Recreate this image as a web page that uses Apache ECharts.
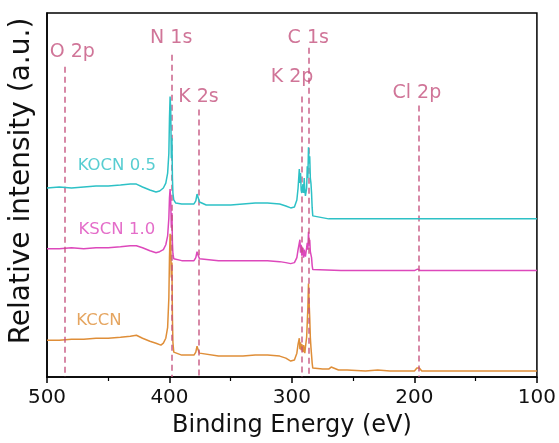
<!DOCTYPE html>
<html style="height: 100%">
<head>
  <meta charset="utf-8">
  <title>XPS survey</title>
</head>
<body style="height: 100%; margin: 0; background: #fff">
  <div id="container" style="width: 559px; height: 443px"></div>
  <script src="https://cdn.jsdelivr.net/npm/echarts@6/dist/echarts.min.js"></script>
  <script>
    // spectra: [binding energy (eV), relative intensity (arb.)]
    const kocn = [[500,190],[490,191],[480,190],[470,191],[460,192],[450,192],[440,193],[432,194],[427,194],[422,191],[416,188],[411,186],[408,187],[405,190],[403,195],[401.5,205],[400.5,225],[400,260],[399.5,282],[399,270],[398.5,220],[398,240],[397.6,200],[397.2,185],[396.5,178],[395,175],[390,174],[385,174],[380,174],[378.5,177],[377.5,184],[376.5,180],[375.5,176],[374,174],[370,173],[360,173],[350,173],[340,174],[330,175],[320,175],[310,174],[305,172],[301,170],[298,171],[296,178],[295,190],[294,209],[293.5,195],[293,205],[292.5,188],[292,185],[291,194],[290.5,185],[290,200],[289.5,188],[289,182],[288,190],[287.5,212],[287,200],[286.5,231],[286,215],[285.5,222],[285,200],[284.5,195],[284,185],[283.5,170],[283,162],[282,160],[270,159],[250,159],[200,159],[150,159],[100,159]];
    const kscn = [[500,129],[490,129],[480,130],[470,129],[460,130],[450,130],[440,131],[432,132],[427,132],[422,130],[416,127],[411,125],[408,126],[405,128],[403,133],[401.5,142],[400.5,160],[400,180],[399.5,189],[399,178],[398.5,150],[398,165],[397.6,135],[397.2,124],[396.5,119],[395,118],[390,117],[380,117],[378.5,120],[377.5,126],[376.5,122],[375.5,119],[374,117],[360,117],[350,117],[340,117],[330,117],[320,117],[310,116],[305,115],[301,114],[298,115],[296,120],[295,128],[294,127],[293.5,138],[293,125],[292.5,133],[292,122],[291,130],[290.5,120],[290,128],[289.5,124],[289,121],[288,130],[287.5,135],[287,128],[286.5,146],[286,132],[285.5,138],[285,126],[284.5,124],[284,120],[283.5,112],[283,108],[282,107],[260,107],[240,107],[220,107],[200,107],[197.5,108.5],[196.5,108],[195,107],[150,107],[100,107]];
    const kccn = [[500,37],[490,37],[480,38],[470,38],[460,39],[450,39],[440,40],[432,41],[427,42],[422,39],[416,36],[411,34],[407,32],[405,34],[403,39],[401.5,50],[400.5,80],[400,120],[399.5,144],[399,135],[398.5,100],[398,115],[397.6,60],[397.2,35],[396.5,25],[395,23],[390,22],[380,22],[378.5,25],[377.5,31],[376.5,27],[375.5,24],[374,22],[360,21],[350,21],[340,21],[330,22],[320,22],[310,21],[305,19],[301,16],[298,17],[296,24],[295,33],[294,39],[293.5,28],[293,35],[292.5,27],[292,33],[291,25],[290.5,32],[290,28],[289.5,24],[289,30],[288,40],[287.5,55],[287,70],[286.5,94],[286,75],[285.5,60],[285,40],[284.5,30],[284,22],[283.5,14],[283,9],[282,8],[275,8],[270,8],[268,10],[266,9],[262,7],[255,7],[240,6],[230,7],[220,6],[210,6],[200,6],[198,9],[197,11],[196,9],[194,6],[150,6],[100,6]];

    // reference lines: name, energy, top of dashed line, label anchor
    const peakNames = ['O 2p', 'N 1s', 'K 2s', 'K 2p', 'C 1s', 'Cl 2p'];
    const peakEnergy = [485.3, 398.3, 376, 292, 286.3, 196.3];
    const peakTop = [312, 324, 269, 282, 331, 273];
    const peakLabelAt = [[479.4, 327], [398.6, 341], [376.4, 281], [300, 302], [286.7, 341], [198, 285]];

    const sampleNames = ['KOCN 0.5', 'KSCN 1.0', 'KCCN'];
    const sampleLabelAt = [[443, 212], [443, 148], [457.6, 57]];

    const colors = ['#2dc1c6', '#dd48bb', '#df8e38'];
    const peakColor = '#c4527e';
    const font = 'DejaVu Sans, sans-serif';

    let myChart = echarts.init(document.getElementById('container'));

    const spectra = [kocn, kscn, kccn];
    const series = [];
    // draw KCCN first so teal ends up on top
    for (let i = spectra.length - 1; i >= 0; i--) {
      series.push({
        type: 'line',
        name: sampleNames[i],
        data: spectra[i],
        symbol: 'none',
        lineStyle: { color: colors[i], width: 1.5 },
        z: 3 + (2 - i),
        animation: false
      });
    }
    series.push({
      type: 'line',
      data: [],
      symbol: 'none',
      z: 6,
      markLine: {
        silent: true,
        symbol: 'none',
        animation: false,
        label: { show: false },
        lineStyle: { color: peakColor, type: [6, 4], width: 1.5, opacity: 0.9 },
        data: peakEnergy.map((e, i) => [{ coord: [e, peakTop[i]] }, { coord: [e, 0] }])
      }
    });
    series.push({
      type: 'scatter',
      symbolSize: 1,
      itemStyle: { color: 'rgba(0,0,0,0)' },
      animation: false,
      silent: true,
      data: peakNames.map((n, i) => [peakLabelAt[i][0], peakLabelAt[i][1], n]),
      label: {
        show: true, position: 'inside', formatter: p => p.data[2],
        color: peakColor, fontSize: 19, fontFamily: font
      }
    });
    series.push({
      type: 'scatter',
      symbolSize: 1,
      itemStyle: { color: 'rgba(0,0,0,0)' },
      animation: false,
      silent: true,
      data: sampleNames.map((n, i) => ({ value: [sampleLabelAt[i][0], sampleLabelAt[i][1]], name: n,
        label: { color: colors[i] } })),
      label: {
        show: true, position: 'inside', formatter: '{b}', fontSize: 16.5, fontFamily: font
      }
    });

    let option = {
      animation: false,
      grid: {
        left: 46, right: 22, top: 13, bottom: 64,
        show: true, borderColor: '#000', borderWidth: 1.5
      },
      xAxis: {
        type: 'value',
        min: 100, max: 500, interval: 100,
        inverse: true,
        name: 'Binding Energy (eV)',
        nameLocation: 'middle',
        nameGap: 37,
        nameTextStyle: { fontSize: 24, color: '#111', fontFamily: font },
        axisLine: { lineStyle: { color: '#000', width: 1.5 } },
        axisTick: { length: 6, lineStyle: { color: '#000', width: 1.5 } },
        minorTick: { show: true, splitNumber: 2, length: 4, lineStyle: { color: '#000', width: 1.2 } },
        axisLabel: { fontSize: 20, color: '#111', fontFamily: font, margin: 11 },
        splitLine: { show: false }
      },
      yAxis: {
        type: 'value',
        min: 0, max: 366,
        name: 'Relative intensity (a.u.)',
        nameLocation: 'middle',
        nameGap: 11,
        nameTextStyle: { fontSize: 28, color: '#111', fontFamily: font, padding: [0, 0, 0, 28] },
        axisLine: { lineStyle: { color: '#000', width: 1.5 } },
        axisTick: { show: false },
        axisLabel: { show: false },
        splitLine: { show: false }
      },
      series: series
    };

    myChart.setOption(option);
  </script>
</body>
</html>
